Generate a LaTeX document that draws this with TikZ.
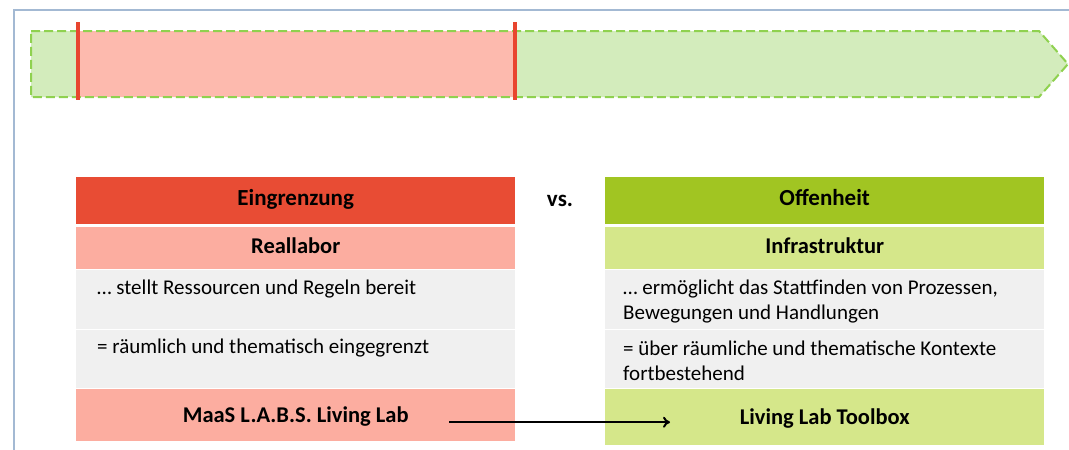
\documentclass[tikz,border=0pt]{standalone}
\usepackage{fontspec}
\setmainfont{Carlito}
\usetikzlibrary{arrows.meta}
\definecolor{frameblue}{HTML}{A3B9D3}
\definecolor{barpink}{HTML}{FDBAAE}
\definecolor{bargreen}{HTML}{D3ECBC}
\definecolor{dashgreen}{HTML}{8FD14F}
\definecolor{redline}{HTML}{E8452F}
\definecolor{hdrred}{HTML}{E84C34}
\definecolor{hdrgreen}{HTML}{A1C522}
\definecolor{subred}{HTML}{FCADA0}
\definecolor{subgreen}{HTML}{D5E78A}
\definecolor{rowgray}{HTML}{F0F0F0}
\begin{document}
\begin{tikzpicture}[x=1pt,y=-1pt,
  cell/.style={rectangle, inner sep=0pt, minimum width=439pt, anchor=north west, draw=none},
  hdr/.style={cell, minimum height=47pt, text height=16pt, text depth=6pt, font=\fontsize{23}{26}\selectfont\bfseries},
  sub/.style={cell, text height=16pt, text depth=6pt, font=\fontsize{22.5}{26}\selectfont\bfseries},
  bot/.style={sub, text depth=2pt},
  body/.style={anchor=west, inner sep=0pt, align=left, font=\fontsize{21}{25}\selectfont},
  conn/.style={-{To[length=7pt,width=11pt]}, line width=2pt, black}
]
\useasboundingbox[fill=white] (0,0) rectangle (1069,450);
% frame
\draw[frameblue, line width=2pt] (14,450) -- (14,10) -- (1069,10);
% timeline bar
\path[fill=bargreen] (31,31) -- (1039,31) -- (1068,64) -- (1039,97) -- (31,97) -- cycle;
\path[fill=barpink] (78,31) rectangle (515,97);
\draw[dashgreen, line width=2pt, dash pattern=on 9pt off 4pt] (31,31) -- (1039,31) -- (1068,64) -- (1039,97) -- (31,97) -- cycle;
\draw[redline, line width=3.5pt] (78,22) -- (78,100);
\draw[redline, line width=3.5pt] (515,22) -- (515,100);
% left column
\node[hdr, fill=hdrred] (eL) at (76,177) {Eingrenzung};
\node[sub, fill=subred, minimum height=42pt] (sL) at (76,227) {Reallabor};
\node[cell, fill=rowgray, minimum height=59pt] (g1L) at (76,270) {};
\node[cell, fill=rowgray, minimum height=58pt] (g2L) at (76,330) {};
\node[bot, fill=subred, minimum height=52pt] (bL) at (76,389) {MaaS L.A.B.S. Living Lab};
\node[body] (t1L) at (97,289) {… stellt Ressourcen und Regeln bereit};
\node[body] (t2L) at (97,348) {= räumlich und thematisch eingegrenzt};
% right column
\node[hdr, fill=hdrgreen] (eR) at (605,177) {Offenheit};
\node[sub, fill=subgreen, minimum height=42pt] (sR) at (605,227) {Infrastruktur};
\node[cell, fill=rowgray, minimum height=59pt] (g1R) at (605,270) {};
\node[cell, fill=rowgray, minimum height=58pt] (g2R) at (605,330) {};
\node[bot, fill=subgreen, minimum height=56pt] (bR) at (605,389) {Living Lab Toolbox};
\node[body] (t1R) at (623,301.5) {… ermöglicht das Stattfinden von Prozessen,\\Bewegungen und Handlungen};
\node[body] (t2R) at (623,360.5) {= über räumliche und thematische Kontexte\\fortbestehend};
% vs
\node[font=\fontsize{23}{26}\selectfont\bfseries] (vs) at (560,201) {vs.};
% arrow
\coordinate (arrS) at ([xshift=-66pt,yshift=-7pt]bL.east);
\draw[conn] (arrS) -- ([xshift=65pt]bR.west |- arrS);
\end{tikzpicture}
\end{document}
